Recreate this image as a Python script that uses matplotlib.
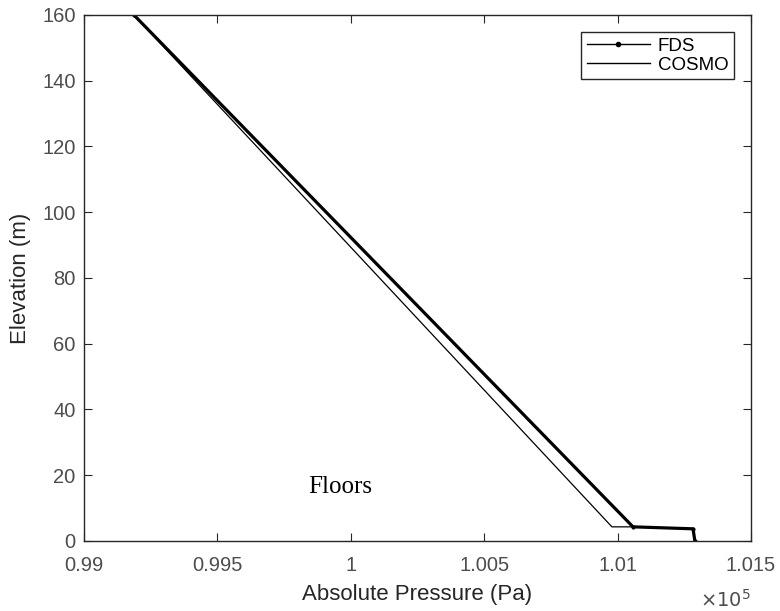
import matplotlib
matplotlib.use('Agg')

import matplotlib.pyplot as plt
from matplotlib.lines import Line2D
from matplotlib.ticker import FuncFormatter


# ---------- Data ----------

fds_pressure = [99187, 101058, 101283, 101290]
fds_elevation = [160, 4.3, 3.7, 0]

cosmo_pressure = [99187, 100979, 101058, 101283, 101290]
cosmo_elevation = [160, 4.3, 4.3, 3.7, 0]

x_ticks = [99000, 99500, 100000, 100500, 101000, 101500]
y_ticks = [0, 20, 40, 60, 80, 100, 120, 140, 160]


# ---------- Figure ----------

plt.rcParams['font.family'] = ['Liberation Sans', 'DejaVu Sans']
axis_gray = '#262626'
label_gray = '#4d4d4d'

fig = plt.figure(figsize=(7.8, 6.11), dpi=100)
ax = fig.add_axes([0.1077, 0.1146, 0.855, 0.8609])

# FDS is drawn as a dense dotted line, which reads as a thick stroke
ax.plot(fds_pressure, fds_elevation, color='black', linewidth=2.3,
        marker='.', markersize=4)
ax.plot(cosmo_pressure, cosmo_elevation, color='black', linewidth=0.9)

ax.set_xlim(99000, 101500)
ax.set_ylim(0, 160)
ax.set_xticks(x_ticks)
ax.set_yticks(y_ticks)
ax.xaxis.set_major_formatter(FuncFormatter(lambda v, p: f"{v / 1e5:g}"))

ax.tick_params(direction='in', top=True, right=True, length=6,
               labelsize=14.5, colors=axis_gray, labelcolor=label_gray)
ax.tick_params(axis='x', pad=11)
ax.tick_params(axis='y', pad=6)
for s in ax.spines.values():
    s.set_color(axis_gray)
    s.set_linewidth(1.0)

ax.set_xlabel("Absolute Pressure (Pa)", fontsize=16, color=axis_gray, labelpad=6)
ax.set_ylabel("Elevation (m)", fontsize=16, color=axis_gray, labelpad=8)

ax.text(1.0, -0.092, r"$\times10^5$", transform=ax.transAxes,
        ha='right', va='top', fontsize=14, color=label_gray)

ax.text(99960, 16.5, "Floors", family=['Liberation Serif', 'DejaVu Serif'],
        fontsize=18, ha='center', va='center')

handles = [
    Line2D([], [], color='black', linewidth=1.0, marker='.', markersize=6,
           markevery=[1], label='FDS'),
    Line2D([], [], color='black', linewidth=1.0, label='COSMO'),
]
leg = ax.legend(handles=handles, loc='upper right', fontsize=13.5,
                fancybox=False, framealpha=1, edgecolor=axis_gray,
                borderaxespad=0.9, handlelength=3.4, handletextpad=0.4,
                labelspacing=0.1, borderpad=0.3)
leg.get_frame().set_linewidth(1.0)
for t in leg.get_texts():
    t.set_color('black')

fig.savefig("out.png", dpi=100)
